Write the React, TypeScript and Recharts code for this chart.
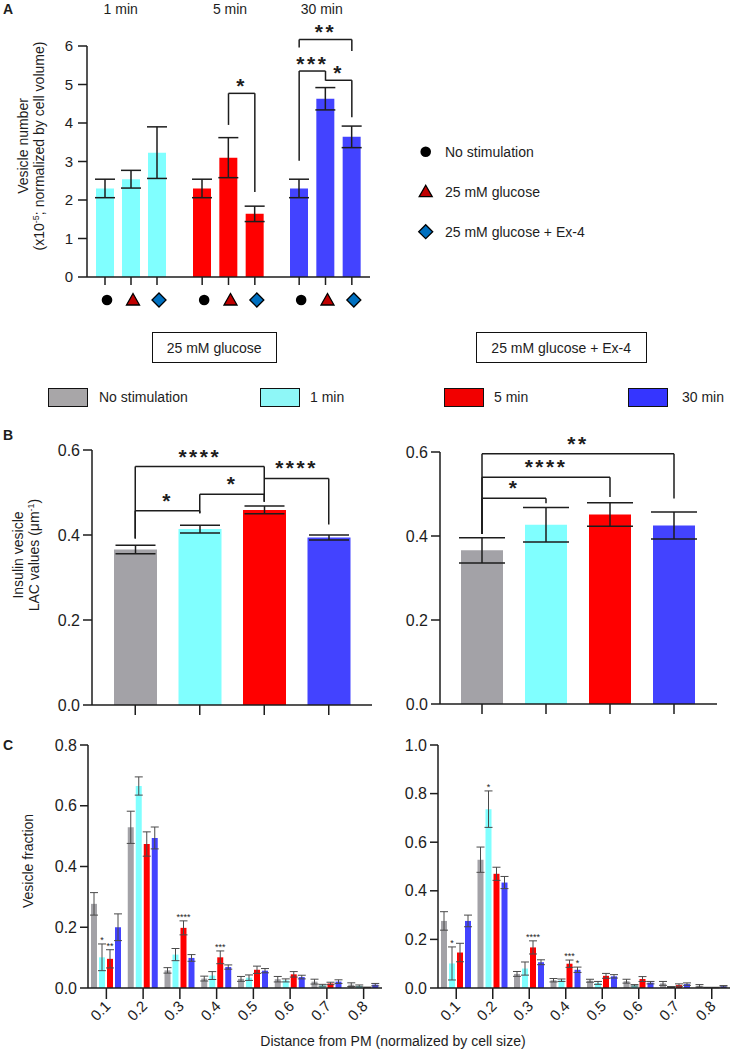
import React from "react"
import { BarChart, Bar, XAxis, YAxis, ErrorBar, Cell, ReferenceLine, LabelList } from "recharts"

const FONT = "'Liberation Sans', Arial, sans-serif"
const INK = "#1d1d1d"
const GRAY = "#a3a2a7"
const CYAN = "#80ffff"
const RED = "#ff0000"
const BLUE = "#4343ff"

// Panel A: vesicle number (x10^-5, normalized by cell volume)
const aConditions = ["No stimulation", "25 mM glucose", "25 mM glucose + Ex-4"]
const aTimes = ["1 min", "5 min", "30 min"]
const a1min = [2.3, 2.54, 3.23]
const a1minErr = [0.24, 0.23, 0.67]
const a5min = [2.3, 3.1, 1.64]
const a5minErr = [0.24, 0.52, 0.2]
const a30min = [2.3, 4.63, 3.64]
const a30minErr = [0.24, 0.29, 0.28]
const aTicks = [0, 1, 2, 3, 4, 5, 6]

type Bracket = { from: string; to: string; top: number; fromFoot: number; toFoot: number; stars: string }

const a5minBrackets: Bracket[] = [
  { from: "25 mM glucose", to: "25 mM glucose + Ex-4", top: 4.77, fromFoot: 3.95, toFoot: 2.21, stars: "*" },
]
const a30minBrackets: Bracket[] = [
  { from: "No stimulation", to: "25 mM glucose + Ex-4", top: 6.17, fromFoot: 5.96, toFoot: 5.87, stars: "**" },
  { from: "No stimulation", to: "25 mM glucose", top: 5.35, fromFoot: 3.02, toFoot: 5.1, stars: "***" },
  { from: "25 mM glucose", to: "25 mM glucose + Ex-4", top: 5.11, fromFoot: 5.11, toFoot: 4.15, stars: "*" },
]

// Panel B: insulin vesicle LAC values
const bGroups = ["No stimulation", "1 min", "5 min", "30 min"]
const bColors = [GRAY, CYAN, RED, BLUE]
const bGlucose = [0.366, 0.414, 0.459, 0.394]
const bGlucoseErr = [0.01, 0.009, 0.009, 0.006]
const bExendin = [0.366, 0.427, 0.451, 0.425]
const bExendinErr = [0.03, 0.041, 0.028, 0.032]
const bTicks = [0, 0.2, 0.4, 0.6]

const bGlucoseBrackets: Bracket[] = [
  { from: "No stimulation", to: "5 min", top: 0.561, fromFoot: 0.392, toFoot: 0.478, stars: "****" },
  { from: "No stimulation", to: "1 min", top: 0.457, fromFoot: 0.392, toFoot: 0.451, stars: "*" },
  { from: "1 min", to: "5 min", top: 0.496, fromFoot: 0.451, toFoot: 0.478, stars: "*" },
  { from: "5 min", to: "30 min", top: 0.533, fromFoot: 0.533, toFoot: 0.425, stars: "****" },
]
const bExendinBrackets: Bracket[] = [
  { from: "No stimulation", to: "30 min", top: 0.596, fromFoot: 0.405, toFoot: 0.489, stars: "**" },
  { from: "No stimulation", to: "5 min", top: 0.54, fromFoot: 0.405, toFoot: 0.493, stars: "****" },
  { from: "No stimulation", to: "1 min", top: 0.49, fromFoot: 0.405, toFoot: 0.478, stars: "*" },
]

// Panel C: vesicle fraction vs distance from PM
const cDist = ["0.1", "0.2", "0.3", "0.4", "0.5", "0.6", "0.7", "0.8"]

const cLeftNoStim = [0.277, 0.529, 0.058, 0.031, 0.03, 0.029, 0.021, 0.011]
const cLeftNoStimErr = [0.037, 0.053, 0.009, 0.008, 0.008, 0.009, 0.008, 0.006]
const cLeft1min = [0.101, 0.665, 0.11, 0.041, 0.034, 0.025, 0.009, 0.007]
const cLeft1minErr = [0.044, 0.03, 0.02, 0.013, 0.009, 0.005, 0.003, 0.003]
const cLeft5min = [0.096, 0.474, 0.198, 0.101, 0.06, 0.045, 0.015, 0.002]
const cLeft5minErr = [0.03, 0.04, 0.023, 0.021, 0.012, 0.009, 0.004, 0.001]
const cLeft30min = [0.2, 0.494, 0.099, 0.069, 0.057, 0.036, 0.021, 0.011]
const cLeft30minErr = [0.044, 0.036, 0.011, 0.007, 0.007, 0.006, 0.006, 0.004]
const cLeft1minSig = ["*", "", "", "", "", "", "", ""]
const cLeft5minSig = ["**", "", "****", "***", "", "", "", ""]
const cLeft30minSig = ["", "", "", "", "", "", "", ""]

const cRightNoStim = [0.276, 0.528, 0.058, 0.032, 0.03, 0.028, 0.019, 0.009]
const cRightNoStimErr = [0.038, 0.052, 0.01, 0.007, 0.006, 0.008, 0.008, 0.005]
const cRight1min = [0.101, 0.736, 0.08, 0.032, 0.021, 0.011, 0.004, 0.002]
const cRight1minErr = [0.068, 0.075, 0.027, 0.005, 0.006, 0.003, 0.002, 0.001]
const cRight5min = [0.146, 0.47, 0.167, 0.1, 0.05, 0.037, 0.012, 0.002]
const cRight5minErr = [0.038, 0.027, 0.027, 0.015, 0.01, 0.01, 0.005, 0.001]
const cRight30min = [0.276, 0.434, 0.106, 0.075, 0.048, 0.022, 0.016, 0.007]
const cRight30minErr = [0.024, 0.025, 0.01, 0.011, 0.007, 0.005, 0.005, 0.003]
const cRight1minSig = ["*", "*", "", "", "", "", "", ""]
const cRight5minSig = ["", "", "****", "***", "", "", "", ""]
const cRight30minSig = ["", "", "", "*", "", "", "", ""]

const axisStyle = { stroke: INK, strokeWidth: 1.5 }
const fmt1 = (v: number) => v.toFixed(1)
const NoTick = () => <g />

// three segments per significance bracket, star label on the horizontal one
function bracketLines(list: Bracket[], starOffset: number) {
  return list.flatMap((b, i) => [
    <ReferenceLine key={`l${i}`} segment={[{ x: b.from, y: b.fromFoot }, { x: b.from, y: b.top }]}
      stroke={INK} strokeWidth={1.5} ifOverflow="visible" />,
    <ReferenceLine key={`t${i}`} segment={[{ x: b.from, y: b.top }, { x: b.to, y: b.top }]}
      stroke={INK} strokeWidth={1.5} ifOverflow="visible"
      label={{ value: b.stars, position: "top", offset: starOffset, fontSize: 21, fontWeight: 700, fill: INK, letterSpacing: 2.5 }} />,
    <ReferenceLine key={`r${i}`} segment={[{ x: b.to, y: b.top }, { x: b.to, y: b.toFoot }]}
      stroke={INK} strokeWidth={1.5} ifOverflow="visible" />,
  ])
}

function ConditionMarker({ kind, cx, cy }: { kind: number; cx: number; cy: number }) {
  if (kind === 0) return <circle cx={cx} cy={cy} r={5.3} fill="#000" />
  if (kind === 1)
    return <polygon points={`${cx},${cy - 6.5} ${cx + 6.5},${cy + 5} ${cx - 6.5},${cy + 5}`} fill="#c00000" stroke="#000" strokeWidth={1.3} />
  return <polygon points={`${cx},${cy - 7} ${cx + 7},${cy} ${cx},${cy + 7} ${cx - 7},${cy}`} fill="#0070c0" stroke="#000" strokeWidth={1.3} />
}

function ConditionTick(props: any) {
  const { x, y, payload } = props
  return <ConditionMarker kind={aConditions.indexOf(payload.value)} cx={x + 2} cy={y + 13} />
}

function SlantTick(props: any) {
  const { x, y, payload } = props
  const ax = x + 5
  const ay = y + 6
  return (
    <text x={ax} y={ay} transform={`rotate(-45, ${ax}, ${ay})`} textAnchor="end" fontSize={15} fill={INK}>
      {payload.value}
    </text>
  )
}

function RotatedTitle({ lines, xs, cy, fontSize }: { lines: React.ReactNode[]; xs: number[]; cy: number; fontSize: number }) {
  return (
    <g>
      {lines.map((l, i) => (
        <text key={i} x={xs[i]} y={cy} transform={`rotate(-90, ${xs[i]}, ${cy})`} textAnchor="middle" fontSize={fontSize} fill={INK}>
          {l}
        </text>
      ))}
    </g>
  )
}

function sigLabel(values: number[], errs: number[]) {
  return (props: any) => {
    const { index, value } = props
    if (!value) return null
    const vb = props.viewBox ?? props
    const v = values[index]
    const ppu = vb.height / v
    const top = vb.y - errs[index] * ppu
    return (
      <text x={vb.x + vb.width / 2} y={top - 1} textAnchor="middle" fontSize={9} fill={INK}>
        {value}
      </text>
    )
  }
}

function TimeChart({ values, errs, color, brackets, withAxis, width, pad }: any) {
  const data = aConditions.map((cond, i) => ({ cond, value: values[i], err: errs[i] }))
  const title = [
    "Vesicle number",
    <>
      (x10<tspan fontSize={9} dy={-5}>-5</tspan>
      <tspan dy={5}>; normalized by cell volume)</tspan>
    </>,
  ]
  return (
    <BarChart width={width} height={312} data={data} margin={{ top: 46, right: 0, bottom: 0, left: 0 }} barSize={18}>
      <XAxis dataKey="cond" interval={0} height={35} padding={pad} tickSize={8}
        axisLine={axisStyle} tickLine={axisStyle} tick={ConditionTick} />
      <YAxis hide={!withAxis} width={withAxis ? 87 : 0} domain={[0, 6]} ticks={aTicks} tickSize={9} tickMargin={5}
        axisLine={axisStyle} tickLine={axisStyle} tick={{ fontSize: 15, fill: INK }}
        label={withAxis ? { content: () => <RotatedTitle lines={title} xs={[28, 44]} cy={146} fontSize={14} /> } : undefined} />
      <Bar dataKey="value" fill={color} isAnimationActive={false}>
        <ErrorBar dataKey="err" width={10} stroke={INK} strokeWidth={1.5} />
      </Bar>
      {bracketLines(brackets, 0)}
    </BarChart>
  )
}

function LacChart({ values, errs, brackets, width, height, top, yWidth, pad, barSize, cap, withTitle }: any) {
  const data = bGroups.map((group, i) => ({ group, value: values[i], err: errs[i] }))
  const title = ["Insulin vesicle", <>LAC values (μm<tspan fontSize={9} dy={-5}>-1</tspan><tspan dy={5}>)</tspan></>]
  return (
    <BarChart width={width} height={height} data={data} margin={{ top, right: 0, bottom: 0, left: 0 }} barSize={barSize}>
      <XAxis dataKey="group" interval={0} height={15} padding={pad} tickSize={10}
        axisLine={axisStyle} tickLine={axisStyle} tick={NoTick} />
      <YAxis width={yWidth} domain={[0, 0.6]} ticks={bTicks} tickFormatter={fmt1} tickSize={9} tickMargin={3}
        axisLine={axisStyle} tickLine={axisStyle} tick={{ fontSize: 16, fill: INK }}
        label={withTitle ? { content: () => <RotatedTitle lines={title} xs={[23, 39]} cy={145} fontSize={14} /> } : undefined} />
      <Bar dataKey="value" isAnimationActive={false}>
        {data.map((d, i) => <Cell key={d.group} fill={bColors[i]} />)}
        <ErrorBar dataKey="err" width={cap} stroke={INK} strokeWidth={1.5} />
      </Bar>
      {bracketLines(brackets, 3)}
    </BarChart>
  )
}

function DistChart({ ns, nsErr, m1, m1Err, m5, m5Err, m30, m30Err, m1Sig, m5Sig, m30Sig, width, yWidth, max, ticks, withTitle }: any) {
  const data = cDist.map((dist, i) => ({
    dist,
    ns: ns[i], nsErr: nsErr[i],
    m1: m1[i], m1Err: m1Err[i], m1Sig: m1Sig[i],
    m5: m5[i], m5Err: m5Err[i], m5Sig: m5Sig[i],
    m30: m30[i], m30Err: m30Err[i], m30Sig: m30Sig[i],
  }))
  const err = { width: 4, stroke: "#4a4a4a", strokeWidth: 1 }
  return (
    <BarChart width={width} height={303} data={data} margin={{ top: 20, right: 0, bottom: 0, left: 0 }} barSize={6} barGap={2}>
      <XAxis dataKey="dist" interval={0} height={40} tickSize={11} axisLine={axisStyle} tickLine={axisStyle} tick={SlantTick} />
      <YAxis width={yWidth} domain={[0, max]} ticks={ticks} tickFormatter={fmt1} tickSize={8} tickMargin={3}
        axisLine={axisStyle} tickLine={axisStyle} tick={{ fontSize: 16, fill: INK }}
        label={withTitle ? { content: () => <RotatedTitle lines={["Vesicle fraction"]} xs={[33]} cy={136} fontSize={14} /> } : undefined} />
      <Bar dataKey="ns" fill={GRAY} isAnimationActive={false}>
        <ErrorBar dataKey="nsErr" {...err} />
      </Bar>
      <Bar dataKey="m1" fill={CYAN} isAnimationActive={false}>
        <ErrorBar dataKey="m1Err" {...err} />
        <LabelList dataKey="m1Sig" content={sigLabel(m1, m1Err)} />
      </Bar>
      <Bar dataKey="m5" fill={RED} isAnimationActive={false}>
        <ErrorBar dataKey="m5Err" {...err} />
        <LabelList dataKey="m5Sig" content={sigLabel(m5, m5Err)} />
      </Bar>
      <Bar dataKey="m30" fill={BLUE} isAnimationActive={false}>
        <ErrorBar dataKey="m30Err" {...err} />
        <LabelList dataKey="m30Sig" content={sigLabel(m30, m30Err)} />
      </Bar>
    </BarChart>
  )
}

function Txt({ x, y, children, size = 14, bold = false, center = false }: any) {
  return (
    <div style={{
      position: "absolute", left: x, top: y, fontSize: size, fontWeight: bold ? 700 : 400, lineHeight: `${size + 2}px`,
      whiteSpace: "nowrap", transform: center ? "translateX(-50%)" : undefined, color: INK,
    }}>
      {children}
    </div>
  )
}

const legendItems = [
  { label: "No stimulation", color: "#a8a6a8", box: 48, text: 99 },
  { label: "1 min", color: "#8ef7f7", box: 260, text: 310 },
  { label: "5 min", color: "#f20000", box: 444, text: 494 },
  { label: "30 min", color: "#3535ff", box: 628, text: 682 },
]

export default function App() {
  return (
    <div style={{ position: "absolute", left: 0, top: 0, width: 732, height: 1050, background: "#fff", fontFamily: FONT, overflow: "hidden" }}>
      <Txt x={3} y={1} bold size={14}>A</Txt>
      <Txt x={120.7} y={1} center>{aTimes[0]}</Txt>
      <Txt x={230} y={1} center>{aTimes[1]}</Txt>
      <Txt x={321.7} y={1} center>{aTimes[2]}</Txt>

      <div style={{ position: "absolute", left: 0, top: 0 }}>
        <TimeChart values={a1min} errs={a1minErr} color={CYAN} brackets={[]} withAxis width={180} pad={{ left: 5, right: 10 }} />
      </div>
      <div style={{ position: "absolute", left: 180, top: 0 }}>
        <TimeChart values={a5min} errs={a5minErr} color={RED} brackets={a5minBrackets} withAxis={false} width={97} pad={{ left: 9, right: 9 }} />
      </div>
      <div style={{ position: "absolute", left: 277, top: 0 }}>
        <TimeChart values={a30min} errs={a30minErr} color={BLUE} brackets={a30minBrackets} withAxis={false} width={93} pad={{ left: 9, right: 5 }} />
      </div>

      <svg style={{ position: "absolute", left: 400, top: 130 }} width={260} height={120}>
        {aConditions.map((c, i) => (
          <g key={c}>
            <ConditionMarker kind={i} cx={25.7} cy={21.7 + i * 40} />
            <text x={45} y={26.7 + i * 40} fontSize={14} fill={INK}>{c}</text>
          </g>
        ))}
      </svg>

      <div style={{ position: "absolute", left: 151.7, top: 332.3, width: 125, height: 31, boxSizing: "border-box", border: "1.5px solid #111", display: "flex", alignItems: "center", justifyContent: "center", fontSize: 14, color: INK }}>
        25 mM glucose
      </div>
      <div style={{ position: "absolute", left: 475.7, top: 332.3, width: 171, height: 31, boxSizing: "border-box", border: "1.5px solid #111", display: "flex", alignItems: "center", justifyContent: "center", fontSize: 14, color: INK }}>
        25 mM glucose + Ex-4
      </div>

      {legendItems.map((l) => (
        <React.Fragment key={l.label}>
          <div style={{ position: "absolute", left: l.box, top: 388, width: 40, height: 19, boxSizing: "border-box", border: "1.5px solid #111", background: l.color }} />
          <Txt x={l.text} y={389}>{l.label}</Txt>
        </React.Fragment>
      ))}

      <Txt x={3} y={427} bold size={14}>B</Txt>
      <div style={{ position: "absolute", left: 0, top: 410 }}>
        <LacChart values={bGlucose} errs={bGlucoseErr} brackets={bGlucoseBrackets} width={372} height={310} top={40}
          yWidth={92} pad={{ left: 11, right: 11 }} barSize={43} cap={20} withTitle />
      </div>
      <div style={{ position: "absolute", left: 370, top: 410 }}>
        <LacChart values={bExendin} errs={bExendinErr} brackets={bExendinBrackets} width={347} height={309} top={42}
          yWidth={70} pad={{ left: 10, right: 11 }} barSize={42} cap={23} withTitle={false} />
      </div>

      <Txt x={3} y={737} bold size={14}>C</Txt>
      <div style={{ position: "absolute", left: 0, top: 725 }}>
        <DistChart ns={cLeftNoStim} nsErr={cLeftNoStimErr} m1={cLeft1min} m1Err={cLeft1minErr} m5={cLeft5min} m5Err={cLeft5minErr}
          m30={cLeft30min} m30Err={cLeft30minErr} m1Sig={cLeft1minSig} m5Sig={cLeft5minSig} m30Sig={cLeft30minSig}
          width={382} yWidth={88} max={0.8} ticks={[0, 0.2, 0.4, 0.6, 0.8]} withTitle />
      </div>
      <div style={{ position: "absolute", left: 370, top: 725 }}>
        <DistChart ns={cRightNoStim} nsErr={cRightNoStimErr} m1={cRight1min} m1Err={cRight1minErr} m5={cRight5min} m5Err={cRight5minErr}
          m30={cRight30min} m30Err={cRight30minErr} m1Sig={cRight1minSig} m5Sig={cRight5minSig} m30Sig={cRight30minSig}
          width={360} yWidth={68} max={1} ticks={[0, 0.2, 0.4, 0.6, 0.8, 1.0]} withTitle={false} />
      </div>
      <Txt x={393} y={1033} center>Distance from PM (normalized by cell size)</Txt>
    </div>
  )
}
